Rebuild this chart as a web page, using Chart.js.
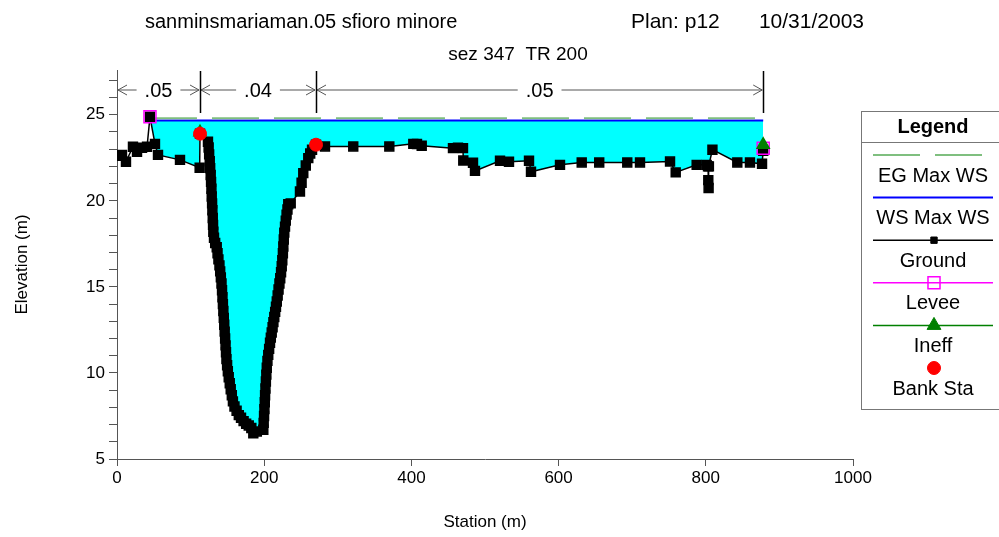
<!DOCTYPE html>
<html>
<head>
<meta charset="utf-8">
<script src="https://cdn.jsdelivr.net/npm/chart.js@4.4.1/dist/chart.umd.min.js"></script>
<style>
html, body { margin: 0; padding: 0; background: #fff; }
#wrap { position: relative; width: 999px; height: 537px; }
</style>
</head>
<body>
<div id="wrap"><canvas id="c" width="999" height="537"></canvas></div>
<script>
// --- data ---
const groundSta = [0, 6.8, 12.2, 21.7, 27.2, 34, 40.8, 44.8, 51.6, 55.7, 85.6, 112.3, 112.8,
  123.6, 124.5, 125.2, 126, 126.6, 127.3, 127.8, 128.3, 128.7, 129.2, 129.6, 130.1, 130.5, 130.9,
  131.8, 133.4, 135.5, 136.6, 137.8, 139.2, 140.2, 141.1, 142, 142.7, 143.3, 143.9, 144.5, 145.1,
  145.7, 146.3, 146.9, 147.5, 148.1, 148.7, 149.6, 150.6, 151.8, 153.2, 154.5, 156, 157.5, 159.6,
  162.5, 165.5, 168.5, 172, 175.5, 179, 182.5, 185.2, 190,
  198.8, 199.3, 199.8, 200.3, 200.8, 201.2, 201.7, 202.3, 202.9, 203.5, 204.4, 205.5, 206.7, 207.9,
  209, 210.2, 211.4, 212.5, 213.7, 214.9, 216, 217.1, 218.3, 219.5, 220.7, 221.8, 222.9, 223.8,
  224.6, 225.4, 226, 226.6, 227.3, 228.3, 229.3, 230.4, 231.6, 232.7, 236, 248.6, 250.8, 253.1,
  256.5, 259.9, 262.5, 265, 270.4,
  282.6, 321, 370, 402.6, 407.6, 414, 456.5, 463.3, 470.1, 470.5, 483.7, 486.4, 520.4, 532.6,
  559.8, 562.5, 601.9, 631.4, 655.2, 693.3, 710.6, 751.4, 759.1, 787.6, 801.2, 803, 803.4, 803.8,
  804.2, 809, 842.8, 860, 876.4, 878];
const groundElev = [22.62, 22.67, 22.27, 23.14, 22.85, 23.08, 23.14, 24.88, 23.31, 22.67, 22.38, 21.92, 23.9,
  23.43, 23.1, 22.7, 22.3, 21.9, 21.5, 21.1, 20.7, 20.25, 19.85, 19.45, 19.0, 18.6, 18.2,
  17.85, 17.55, 17.3, 16.95, 16.6, 16.25, 15.9, 15.55, 15.2, 14.8, 14.4, 14.0, 13.6, 13.2,
  12.8, 12.4, 12.0, 11.6, 11.2, 10.8, 10.45, 10.1, 9.75, 9.4, 9.05, 8.7, 8.35, 8.05,
  7.8, 7.55, 7.4, 7.2, 7.05, 6.95, 6.8, 6.5, 6.6,
  6.7, 7.1, 7.5, 7.9, 8.3, 8.7, 9.1, 9.5, 9.9, 10.3, 10.7, 11.05, 11.4, 11.75,
  12.05, 12.35, 12.65, 12.95, 13.25, 13.55, 13.85, 14.15, 14.5, 14.85, 15.2, 15.5, 15.85, 16.2,
  16.55, 16.95, 17.35, 17.75, 18.15, 18.5, 18.85, 19.2, 19.5, 19.8, 19.85, 20.54, 21.05, 21.61,
  22.05, 22.48, 22.75, 22.97, 23.26,
  23.16, 23.16, 23.16, 23.31, 23.3, 23.2, 23.06, 23.08, 23.06, 22.34, 22.21, 21.74, 22.33, 22.27,
  22.33, 21.69, 22.09, 22.23, 22.23, 22.23, 22.23, 22.28, 21.65, 22.09, 22.09, 22.0, 21.2, 20.74,
  22.0, 22.97, 22.23, 22.23, 22.15, 22.9];
const wsSta = [44.8, 878];
const wsElev = [24.67, 24.67];
const egSta = [44.8, 878];
const egElev = [24.8, 24.8];
const leveeSta = [44.8, 878];
const leveeElev = [24.88, 23.05];
const ineffSta = [112.8, 878];
const ineffElev = [23.98, 23.25];
const bankSta = [112.8, 270.4];
const bankElev = [23.9, 23.26];
const nBreaks = [0, 112.8, 270.4, 878];
const nValues = ['.05', '.04', '.05'];
const xTickStep = 200;
const yLabelStep = 5;

const FONT = "'Liberation Sans', Arial, sans-serif";
Chart.defaults.font.family = FONT;
Chart.defaults.color = '#000';

const pts = (xs, ys) => xs.map((x, i) => ({ x: x, y: ys[i] }));

// titles, n-value bar and legend box
const decor = {
  id: 'decor',
  afterDraw(chart) {
    const ctx = chart.ctx;
    const xs = chart.scales.x;
    ctx.save();
    ctx.fillStyle = '#000';
    ctx.textBaseline = 'middle';
    ctx.textAlign = 'left';
    ctx.font = '20px ' + FONT;
    ctx.fillText('sanminsmariaman.05 sfioro minore', 145, 22);
    ctx.font = '21px ' + FONT;
    ctx.fillText('Plan: p12', 631, 22);
    ctx.textAlign = 'right';
    ctx.fillText('10/31/2003', 864, 22);
    ctx.textAlign = 'center';
    ctx.font = '19px ' + FONT;
    ctx.fillText('sez 347  TR 200', 518, 55);

    // Manning n bar
    const yb = 90;
    ctx.font = '20px ' + FONT;
    for (let i = 0; i < nValues.length; i++) {
      const a = xs.getPixelForValue(nBreaks[i]);
      const b = xs.getPixelForValue(nBreaks[i + 1]);
      const mid = (a + b) / 2;
      const half = ctx.measureText(nValues[i]).width / 2 + 8;
      ctx.strokeStyle = '#555';
      ctx.lineWidth = 1;
      ctx.beginPath();
      ctx.moveTo(a + 1, yb); ctx.lineTo(mid - half, yb);
      ctx.moveTo(mid + half, yb); ctx.lineTo(b - 1, yb);
      ctx.moveTo(a + 10, yb - 5); ctx.lineTo(a + 1, yb); ctx.lineTo(a + 10, yb + 5);
      ctx.moveTo(b - 10, yb - 5); ctx.lineTo(b - 1, yb); ctx.lineTo(b - 10, yb + 5);
      ctx.stroke();
      ctx.fillText(nValues[i], mid, yb + 1);
    }
    ctx.strokeStyle = '#000';
    ctx.lineWidth = 1.5;
    ctx.beginPath();
    nBreaks.slice(1).forEach(s => {
      const p = Math.round(xs.getPixelForValue(s)) + 0.5;
      ctx.moveTo(p, 71); ctx.lineTo(p, 113);
    });
    ctx.stroke();

    // legend
    const lx = 861.5, ly = 111.5;
    ctx.strokeStyle = '#777';
    ctx.lineWidth = 1;
    ctx.strokeRect(lx, ly, 160, 298);
    ctx.beginPath(); ctx.moveTo(lx, 142.5); ctx.lineTo(999, 142.5); ctx.stroke();
    ctx.font = 'bold 20px ' + FONT;
    ctx.fillText('Legend', 933, 127);
    ctx.font = '20px ' + FONT;
    const items = chart.data.datasets.slice().sort((p, q) => p.legendRank - q.legendRank);
    items.forEach((ds, k) => {
      const y = 155 + k * 42.6;
      const xm = 934;
      if (ds.legendLine) {
        ctx.save();
        ctx.strokeStyle = ds.borderColor;
        ctx.lineWidth = ds.borderWidth;
        ctx.setLineDash(ds.borderDash || []);
        ctx.beginPath(); ctx.moveTo(873, y); ctx.lineTo(993, y); ctx.stroke();
        ctx.restore();
      }
      if (ds.legendRadius) {
        ctx.save();
        ctx.fillStyle = ds.pointBackgroundColor;
        ctx.strokeStyle = ds.pointBorderColor;
        ctx.lineWidth = ds.pointBorderWidth || 1;
        Chart.helpers.drawPoint(ctx, {
          pointStyle: ds.pointStyle, radius: ds.legendRadius, borderWidth: ds.pointBorderWidth || 1
        }, xm, y);
        ctx.restore();
      }
      ctx.fillStyle = '#000';
      ctx.fillText(ds.label, 933, y + 21);
    });
    ctx.restore();
  }
};

const chart = new Chart(document.getElementById('c'), {
  type: 'scatter',
  data: {
    datasets: [
      { label: 'EG Max WS', data: pts(egSta, egElev), showLine: true, borderColor: '#7fbf7f', borderWidth: 2,
        borderDash: [47, 15], pointRadius: 0, order: 4, legendRank: 0, legendLine: true },
      { label: 'WS Max WS', data: pts(wsSta, wsElev), showLine: true, borderColor: '#0000ff', borderWidth: 2,
        pointRadius: 0, order: 5, legendRank: 1, legendLine: true,
        fill: { target: 2, above: '#00ffff', below: 'rgba(0,0,0,0)' } },
      { label: 'Ground', data: pts(groundSta, groundElev), showLine: true, borderColor: '#000', borderWidth: 1.5,
        pointStyle: 'rect', pointRadius: 6.3, pointBackgroundColor: '#000', pointBorderColor: '#000',
        order: 3, legendRank: 2, legendLine: true, legendRadius: 4.5 },
      { label: 'Levee', data: pts(leveeSta, leveeElev), showLine: false, borderColor: '#ff00ff', borderWidth: 1.5,
        pointStyle: 'rect', pointRadius: 8.5, pointBackgroundColor: 'rgba(0,0,0,0)', pointBorderColor: '#ff00ff',
        pointBorderWidth: 1.5, order: 2, legendRank: 3, legendLine: true, legendRadius: 8.5 },
      { label: 'Ineff', data: pts(ineffSta, ineffElev), showLine: false, borderColor: '#008000', borderWidth: 1.5,
        pointStyle: 'triangle', pointRadius: 7, pointBackgroundColor: '#008000', pointBorderColor: '#008000',
        order: 1, legendRank: 4, legendLine: true, legendRadius: 8 },
      { label: 'Bank Sta', data: pts(bankSta, bankElev), showLine: false, borderColor: '#ff0000',
        pointStyle: 'circle', pointRadius: 6.5, pointBackgroundColor: '#ff0000', pointBorderColor: '#ff0000',
        order: 0, legendRank: 5, legendLine: false, legendRadius: 6.5 }
    ]
  },
  options: {
    responsive: false,
    animation: false,
    layout: { padding: { top: 70, right: 146, left: 0, bottom: 0 } },
    plugins: {
      legend: { display: false },
      tooltip: { enabled: false },
      filler: { drawTime: 'beforeDatasetsDraw' }
    },
    scales: {
      x: {
        type: 'linear', min: 0, max: 1000,
        ticks: { stepSize: xTickStep, font: { size: 17 }, color: '#000', padding: 2, callback: v => String(v) },
        grid: { drawOnChartArea: false, tickLength: 7, color: '#555' },
        border: { color: '#555' },
        title: { display: true, text: 'Station (m)', font: { size: 17 }, color: '#000', padding: { top: 14 } },
        afterFit(s) { s.height = 78; }
      },
      y: {
        type: 'linear', min: 5, max: 27.6,
        afterBuildTicks(s) {
          const t = [];
          for (let v = 5; v <= 27; v++) t.push({ value: v });
          s.ticks = t;
        },
        ticks: { font: { size: 17 }, color: '#000', padding: 4, autoSkip: false,
          callback: v => (v % yLabelStep === 0 ? String(v) : '') },
        grid: { drawOnChartArea: false, tickLength: 8, color: '#555' },
        border: { color: '#555' },
        title: { display: true, text: 'Elevation (m)', font: { size: 17 }, color: '#000', padding: { top: 12 } },
        afterFit(s) { s.width = 117; }
      }
    }
  },
  plugins: [decor]
});
</script>
</body>
</html>
